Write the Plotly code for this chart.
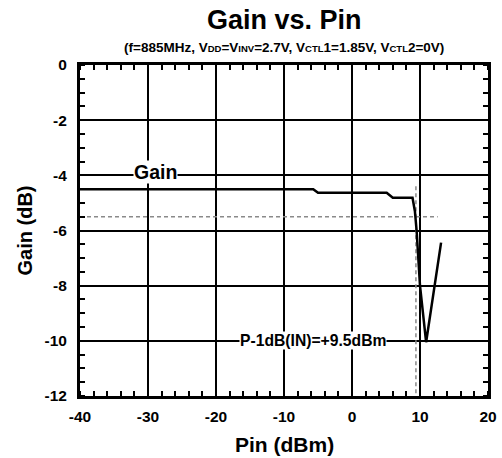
import plotly.graph_objects as go

pin = [-40, -30, -20, -10, -6, -5.7, -5.0, 0, 5.1, 6.0, 8.9, 9.25, 9.5, 10.0, 10.9, 13.1]
gain = [-4.5, -4.5, -4.5, -4.5, -4.5, -4.5, -4.63, -4.63, -4.63, -4.81, -4.81, -5.3, -6.0, -8.0, -10.05, -6.44]

ref_x = [-40, 12.6]
ref_y = [-5.5, -5.5]
p1db_x = [9.4, 9.4]
p1db_y = [-4.4, -12]

x_ticks = [-40, -30, -20, -10, 0, 10, 20]
y_ticks = [0, -2, -4, -6, -8, -10, -12]

font = "Liberation Sans, Arial, sans-serif"
dash_style = dict(color="#8a8a8a", width=1.5, dash="4px,3px")

fig = go.Figure()
fig.add_trace(go.Scatter(x=ref_x, y=ref_y, mode="lines", line=dash_style, showlegend=False))
fig.add_trace(go.Scatter(x=p1db_x, y=p1db_y, mode="lines", line=dash_style, showlegend=False))
fig.add_trace(go.Scatter(x=pin, y=gain, mode="lines",
                         line=dict(color="black", width=2.5), showlegend=False))

fig.add_annotation(x=-28.9, y=-3.87, text="<b>Gain</b>", showarrow=False,
                   font=dict(family=font, size=19.5, color="black"), bgcolor="white", borderpad=0)
fig.add_annotation(x=-5.8, y=-10.0, text="<b>P-1dB(IN)=+9.5dBm</b>", showarrow=False,
                   font=dict(family=font, size=15.7, color="black"), bgcolor="white", borderpad=0)

# titles
fig.add_annotation(xref="paper", yref="paper", x=0.5, y=1, yanchor="middle", yshift=45,
                   text="<b>Gain vs. Pin</b>", showarrow=False,
                   font=dict(family=font, size=27, color="black"))
sub = "<span style='font-size:9.5px'>"
fig.add_annotation(xref="paper", yref="paper", x=0.5, y=1, yanchor="middle", yshift=18,
                   text="<b>(f=885MHz, V" + sub + "DD</span>=V" + sub + "INV</span>=2.7V, V" + sub
                        + "CTL</span>1=1.85V, V" + sub + "CTL</span>2=0V)</b>",
                   showarrow=False, font=dict(family=font, size=13.5, color="black"))
fig.add_annotation(xref="paper", yref="paper", x=0.5, y=0, yanchor="middle", yshift=-48,
                   text="<b>Pin (dBm)</b>", showarrow=False,
                   font=dict(family=font, size=21, color="black"))
fig.add_annotation(xref="paper", yref="paper", x=0, y=0.5, xanchor="center", xshift=-56,
                   text="<b>Gain (dB)</b>", textangle=-90, showarrow=False,
                   font=dict(family=font, size=20, color="black"))

fig.update_layout(
    width=502, height=458,
    margin=dict(l=80, r=14, t=65, b=62),
    paper_bgcolor="white", plot_bgcolor="white",
    font=dict(family=font, color="black"),
    hovermode=False,
    xaxis=dict(range=[-40, 20], tickvals=x_ticks, ticktext=["<b>%d</b>" % v for v in x_ticks],
               showgrid=True, gridcolor="black", gridwidth=2, automargin=False,
               showline=True, linecolor="black", linewidth=3, mirror="allticks",
               ticks="", zeroline=False, ticklabelstandoff=4,
               minor=dict(dtick=2, ticks="inside", ticklen=5, tickcolor="black", tickwidth=1.5, showgrid=False),
               tickfont=dict(family=font, size=15.5, color="black")),
    yaxis=dict(range=[-12, 0], tickvals=y_ticks, ticktext=["<b>%d</b>" % v for v in y_ticks],
               showgrid=True, gridcolor="black", gridwidth=2, automargin=False,
               showline=True, linecolor="black", linewidth=3, mirror="allticks",
               ticks="", zeroline=False, ticklabelstandoff=7,
               minor=dict(dtick=0.5, ticks="inside", ticklen=5, tickcolor="black", tickwidth=1.5, showgrid=False),
               tickfont=dict(family=font, size=15.5, color="black")),
)

fig.write_html("out.html", config={"displayModeBar": False},
               post_script="document.body.style.margin='0';document.body.style.overflow='hidden';")
